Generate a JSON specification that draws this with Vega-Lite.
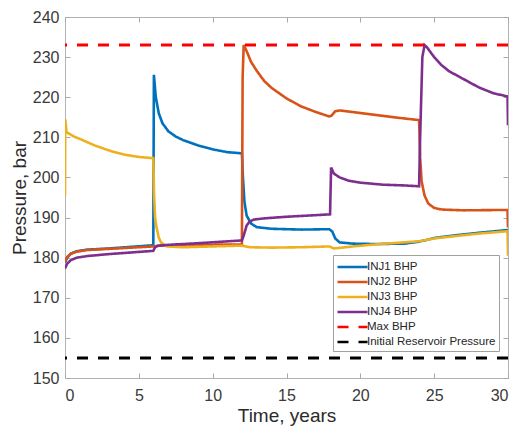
{
  "$schema": "https://vega.github.io/schema/vega-lite/v6.json",
  "width": 443,
  "height": 361,
  "autosize": {"type": "none"},
  "padding": {"left": 65, "top": 17, "right": 10, "bottom": 50},
  "background": "white",
  "datasets": {
    "wells": [
      {"s":"INJ1 BHP","t":0,"p":178.8},{"s":"INJ1 BHP","t":0.15,"p":180},{"s":"INJ1 BHP","t":0.4,"p":181},{"s":"INJ1 BHP","t":0.8,"p":181.6},{"s":"INJ1 BHP","t":1.5,"p":182},{"s":"INJ1 BHP","t":3,"p":182.3},{"s":"INJ1 BHP","t":4.5,"p":182.7},{"s":"INJ1 BHP","t":5.98,"p":183.1},{"s":"INJ1 BHP","t":6.02,"p":225.6},{"s":"INJ1 BHP","t":6.15,"p":220},{"s":"INJ1 BHP","t":6.35,"p":216},{"s":"INJ1 BHP","t":6.6,"p":213.5},{"s":"INJ1 BHP","t":7,"p":211.5},{"s":"INJ1 BHP","t":7.5,"p":210.2},{"s":"INJ1 BHP","t":8,"p":209.3},{"s":"INJ1 BHP","t":9,"p":208},{"s":"INJ1 BHP","t":10,"p":207},{"s":"INJ1 BHP","t":11,"p":206.3},{"s":"INJ1 BHP","t":11.98,"p":206},{"s":"INJ1 BHP","t":12.05,"p":200},{"s":"INJ1 BHP","t":12.15,"p":194},{"s":"INJ1 BHP","t":12.3,"p":190.5},{"s":"INJ1 BHP","t":12.6,"p":188.5},{"s":"INJ1 BHP","t":13,"p":187.6},{"s":"INJ1 BHP","t":14,"p":187.2},{"s":"INJ1 BHP","t":16,"p":187},{"s":"INJ1 BHP","t":17.9,"p":187.1},{"s":"INJ1 BHP","t":18.1,"p":186.5},{"s":"INJ1 BHP","t":18.3,"p":184.8},{"s":"INJ1 BHP","t":18.6,"p":183.8},{"s":"INJ1 BHP","t":19.5,"p":183.5},{"s":"INJ1 BHP","t":21,"p":183.4},{"s":"INJ1 BHP","t":23,"p":183.5},{"s":"INJ1 BHP","t":24,"p":184},{"s":"INJ1 BHP","t":25,"p":184.9},{"s":"INJ1 BHP","t":26.5,"p":185.6},{"s":"INJ1 BHP","t":28,"p":186.2},{"s":"INJ1 BHP","t":30,"p":186.9},
      {"s":"INJ2 BHP","t":0,"p":179},{"s":"INJ2 BHP","t":0.15,"p":180.2},{"s":"INJ2 BHP","t":0.4,"p":181},{"s":"INJ2 BHP","t":0.8,"p":181.5},{"s":"INJ2 BHP","t":1.5,"p":181.9},{"s":"INJ2 BHP","t":3,"p":182.2},{"s":"INJ2 BHP","t":4.5,"p":182.5},{"s":"INJ2 BHP","t":5.98,"p":182.8},{"s":"INJ2 BHP","t":6.5,"p":183},{"s":"INJ2 BHP","t":9,"p":183.2},{"s":"INJ2 BHP","t":11.98,"p":183.3},{"s":"INJ2 BHP","t":12.03,"p":225},{"s":"INJ2 BHP","t":12.1,"p":233},{"s":"INJ2 BHP","t":12.3,"p":231.5},{"s":"INJ2 BHP","t":12.6,"p":228.8},{"s":"INJ2 BHP","t":13,"p":226.5},{"s":"INJ2 BHP","t":13.5,"p":224},{"s":"INJ2 BHP","t":14,"p":222.3},{"s":"INJ2 BHP","t":15,"p":219.7},{"s":"INJ2 BHP","t":16,"p":217.7},{"s":"INJ2 BHP","t":17,"p":216.3},{"s":"INJ2 BHP","t":17.9,"p":215.2},{"s":"INJ2 BHP","t":18.05,"p":215.4},{"s":"INJ2 BHP","t":18.3,"p":216.5},{"s":"INJ2 BHP","t":18.6,"p":216.7},{"s":"INJ2 BHP","t":19.5,"p":216.3},{"s":"INJ2 BHP","t":21,"p":215.6},{"s":"INJ2 BHP","t":22.5,"p":214.9},{"s":"INJ2 BHP","t":23.98,"p":214.3},{"s":"INJ2 BHP","t":24.05,"p":205},{"s":"INJ2 BHP","t":24.15,"p":199},{"s":"INJ2 BHP","t":24.35,"p":195.5},{"s":"INJ2 BHP","t":24.6,"p":193.5},{"s":"INJ2 BHP","t":25,"p":192.4},{"s":"INJ2 BHP","t":25.5,"p":192},{"s":"INJ2 BHP","t":27,"p":191.8},{"s":"INJ2 BHP","t":29.97,"p":191.9},{"s":"INJ2 BHP","t":30,"p":187.5},
      {"s":"INJ3 BHP","t":0,"p":195.5},{"s":"INJ3 BHP","t":0.02,"p":214.5},{"s":"INJ3 BHP","t":0.1,"p":211.3},{"s":"INJ3 BHP","t":0.6,"p":210.2},{"s":"INJ3 BHP","t":1.2,"p":209.3},{"s":"INJ3 BHP","t":2,"p":208},{"s":"INJ3 BHP","t":3,"p":206.7},{"s":"INJ3 BHP","t":4,"p":205.7},{"s":"INJ3 BHP","t":5,"p":205.1},{"s":"INJ3 BHP","t":5.98,"p":204.8},{"s":"INJ3 BHP","t":6.03,"p":196},{"s":"INJ3 BHP","t":6.1,"p":190},{"s":"INJ3 BHP","t":6.2,"p":187.5},{"s":"INJ3 BHP","t":6.35,"p":185},{"s":"INJ3 BHP","t":6.5,"p":183.8},{"s":"INJ3 BHP","t":6.9,"p":182.8},{"s":"INJ3 BHP","t":8,"p":182.6},{"s":"INJ3 BHP","t":10,"p":182.8},{"s":"INJ3 BHP","t":11.98,"p":183},{"s":"INJ3 BHP","t":12.5,"p":182.6},{"s":"INJ3 BHP","t":14,"p":182.5},{"s":"INJ3 BHP","t":16,"p":182.6},{"s":"INJ3 BHP","t":17.9,"p":182.8},{"s":"INJ3 BHP","t":18.2,"p":182.3},{"s":"INJ3 BHP","t":18.5,"p":182.4},{"s":"INJ3 BHP","t":19.5,"p":182.8},{"s":"INJ3 BHP","t":21,"p":183.3},{"s":"INJ3 BHP","t":22.5,"p":183.7},{"s":"INJ3 BHP","t":24,"p":184.1},{"s":"INJ3 BHP","t":25,"p":184.8},{"s":"INJ3 BHP","t":26.5,"p":185.4},{"s":"INJ3 BHP","t":28,"p":186},{"s":"INJ3 BHP","t":29.97,"p":186.6},{"s":"INJ3 BHP","t":30,"p":180.5},
      {"s":"INJ4 BHP","t":0,"p":177.3},{"s":"INJ4 BHP","t":0.15,"p":178.5},{"s":"INJ4 BHP","t":0.4,"p":179.4},{"s":"INJ4 BHP","t":0.8,"p":180},{"s":"INJ4 BHP","t":1.5,"p":180.4},{"s":"INJ4 BHP","t":3,"p":180.9},{"s":"INJ4 BHP","t":4.5,"p":181.3},{"s":"INJ4 BHP","t":5.98,"p":181.7},{"s":"INJ4 BHP","t":6.1,"p":182.6},{"s":"INJ4 BHP","t":6.3,"p":183},{"s":"INJ4 BHP","t":7,"p":183.2},{"s":"INJ4 BHP","t":9,"p":183.6},{"s":"INJ4 BHP","t":11.98,"p":184.3},{"s":"INJ4 BHP","t":12.1,"p":185.5},{"s":"INJ4 BHP","t":12.3,"p":188},{"s":"INJ4 BHP","t":12.5,"p":189},{"s":"INJ4 BHP","t":12.8,"p":189.5},{"s":"INJ4 BHP","t":13.5,"p":189.8},{"s":"INJ4 BHP","t":15,"p":190.2},{"s":"INJ4 BHP","t":16.5,"p":190.5},{"s":"INJ4 BHP","t":17.95,"p":190.8},{"s":"INJ4 BHP","t":18.02,"p":202.5},{"s":"INJ4 BHP","t":18.2,"p":201},{"s":"INJ4 BHP","t":18.6,"p":200},{"s":"INJ4 BHP","t":19.2,"p":199.2},{"s":"INJ4 BHP","t":20,"p":198.7},{"s":"INJ4 BHP","t":21.5,"p":198.2},{"s":"INJ4 BHP","t":23,"p":198},{"s":"INJ4 BHP","t":23.98,"p":197.8},{"s":"INJ4 BHP","t":24.05,"p":210},{"s":"INJ4 BHP","t":24.2,"p":230},{"s":"INJ4 BHP","t":24.35,"p":233},{"s":"INJ4 BHP","t":24.5,"p":232.5},{"s":"INJ4 BHP","t":25,"p":230},{"s":"INJ4 BHP","t":25.5,"p":228},{"s":"INJ4 BHP","t":26,"p":226.5},{"s":"INJ4 BHP","t":27,"p":224.5},{"s":"INJ4 BHP","t":28,"p":222.5},{"s":"INJ4 BHP","t":29,"p":221},{"s":"INJ4 BHP","t":29.97,"p":220.2},{"s":"INJ4 BHP","t":30,"p":213}
    ],
    "refs": [
      {"s":"Max BHP","p":233},
      {"s":"Initial Reservoir Pressure","p":155}
    ]
  },
  "resolve": {"axis": {"x": "independent", "y": "independent"}},
  "layer": [
    {
      "data": {"name": "wells"},
      "mark": {"type": "line", "strokeWidth": 2.6, "clip": true},
      "encoding": {
        "x": {"field": "t", "type": "quantitative", "title": "Time, years",
              "scale": {"domain": [0, 30], "nice": false},
              "axis": {"values": [0,5,10,15,20,25,30], "orient": "bottom", "labelPadding": 14, "titlePadding": 3}},
        "y": {"field": "p", "type": "quantitative", "title": "Pressure, bar",
              "scale": {"domain": [150, 240], "nice": false, "zero": false},
              "axis": {"values": [150,160,170,180,190,200,210,220,230,240], "orient": "left", "labelPadding": 11, "titlePadding": 3}},
        "color": {"field": "s", "type": "nominal", "title": null,
                  "scale": {"domain": ["INJ1 BHP","INJ2 BHP","INJ3 BHP","INJ4 BHP","Max BHP","Initial Reservoir Pressure"],
                            "range": ["#0072BD","#D95319","#EDB120","#7E2F8E","#FF0000","#000000"]}},
        "strokeDash": {"field": "s", "type": "nominal", "title": null,
                  "scale": {"domain": ["INJ1 BHP","INJ2 BHP","INJ3 BHP","INJ4 BHP","Max BHP","Initial Reservoir Pressure"],
                            "range": [[1,0],[1,0],[1,0],[1,0],[11,10],[11,10]]}}
      }
    },
    {
      "data": {"name": "refs"},
      "mark": {"type": "rule", "strokeWidth": 3},
      "encoding": {
        "y": {"field": "p", "type": "quantitative", "axis": null},
        "color": {"field": "s", "type": "nominal", "title": null},
        "strokeDash": {"field": "s", "type": "nominal", "title": null}
      }
    },
    {
      "data": {"name": "wells"},
      "mark": {"type": "point", "opacity": 0},
      "encoding": {
        "x": {"field": "t", "type": "quantitative",
              "axis": {"values": [0,5,10,15,20,25,30], "orient": "top", "labels": false, "title": null}},
        "y": {"field": "p", "type": "quantitative",
              "axis": {"values": [150,160,170,180,190,200,210,220,230,240], "orient": "right", "labels": false, "title": null}}
      }
    }
  ],
  "config": {
    "font": "Liberation Sans",
    "view": {"stroke": "#b3b3b3", "strokeWidth": 1},
    "axis": {
      "grid": false, "domain": false,
      "tickColor": "#a8a8a8", "tickSize": -5, "tickWidth": 1,
      "labelFontSize": 16, "labelColor": "#3a3a3a",
      "titleFontSize": 19, "titleFontWeight": "normal", "titleColor": "#2a2a2a"
    },
    "legend": {
      "orient": "none", "legendX": 268, "legendY": 238,
      "symbolType": "M-1,0H3", "symbolSize": 225, "symbolStrokeWidth": 2.5,
      "labelOffset": 13, "labelFontSize": 11.5, "labelColor": "#262626",
      "rowPadding": 0, "padding": 3,
      "fillColor": "white", "strokeColor": "#a0a0a0"
    }
  }
}
